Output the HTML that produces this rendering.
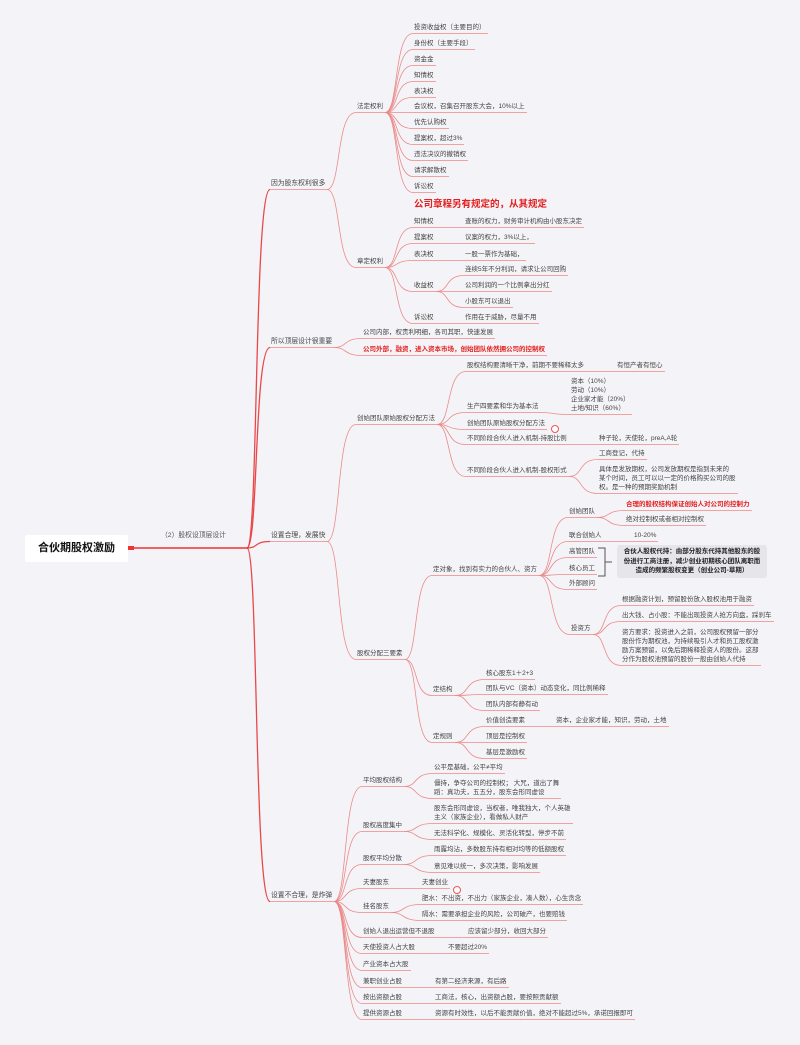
<!DOCTYPE html>
<html><head><meta charset="utf-8">
<style>
html,body{margin:0;padding:0;}
body{width:800px;height:1045px;background:#f4f4f8;position:relative;overflow:hidden;font-family:"Liberation Sans","Noto Sans CJK SC",sans-serif;}
.n{position:absolute;font-size:6.5px;line-height:9px;color:#444;white-space:nowrap;padding:0 2px 1px 1px;border-bottom:1px solid #f2a0a0;}
.m{white-space:pre;line-height:9px;}
.r{color:#e32020;font-weight:bold;}
.big{font-size:9.5px;line-height:12px;}
.l1{font-size:6.8px;}
#root{position:absolute;left:25px;top:535px;width:103px;height:27px;background:#fff;border-radius:2px;font-size:11px;font-weight:bold;color:#111;text-align:center;line-height:27px;font-family:"Liberation Sans","Noto Sans CJK SC",sans-serif;}
#box{position:absolute;left:617px;top:545px;width:150px;height:33px;background:#e5e5ea;border-radius:3px;font-size:6.5px;font-weight:bold;color:#222;text-align:center;line-height:9.5px;padding-top:2px;box-sizing:border-box;}
svg{position:absolute;left:0;top:0;}
.c{position:absolute;width:6px;height:6px;border:1px solid #e55;border-radius:50%;background:#fff;}
</style></head><body>
<svg id="sv" width="800" height="1045"></svg>
<div id="root">合伙期股权激励</div>
<div class="n l1" style="left:160px;top:531px;border:none;color:#555">（2）股权设顶层设计</div>

<div class="n l1" id="A" style="left:270px;top:179px">因为股东权利很多</div>
<div class="n" id="A1" style="left:356px;top:102px">法定权利</div>
<div class="n" id="a1" style="left:413px;top:23px">投资收益权（主要目的）</div>
<div class="n" id="a2" style="left:413px;top:39px">身份权（主要手段）</div>
<div class="n" id="a3" style="left:413px;top:55px">资金金</div>
<div class="n" id="a4" style="left:413px;top:71px">知情权</div>
<div class="n" id="a5" style="left:413px;top:87px">表决权</div>
<div class="n" id="a6" style="left:413px;top:102px">会议权，召集召开股东大会，10%以上</div>
<div class="n" id="a7" style="left:413px;top:118px">优先认购权</div>
<div class="n" id="a8" style="left:413px;top:134px">提案权，超过3%</div>
<div class="n" id="a9" style="left:413px;top:150px">违法决议的撤销权</div>
<div class="n" id="a10" style="left:413px;top:166px">请求解散权</div>
<div class="n" id="a11" style="left:413px;top:182px">诉讼权</div>

<div class="n" id="A2" style="left:356px;top:257px">章定权利</div>
<div class="n r big" id="b0" style="left:413px;top:199px;border:none">公司章程另有规定的，从其规定</div>
<div class="n" id="b1" style="left:413px;top:217px">知情权</div>
<div class="n" id="b1s" style="left:464px;top:217px">查账的权力，财务审计机构由小股东决定</div>
<div class="n" id="b2" style="left:413px;top:233px">提案权</div>
<div class="n" id="b2s" style="left:464px;top:233px">议案的权力，3%以上，</div>
<div class="n" id="b3" style="left:413px;top:250px">表决权</div>
<div class="n" id="b3s" style="left:464px;top:250px">一股一票作为基础，</div>
<div class="n" id="b4" style="left:413px;top:281px">收益权</div>
<div class="n" id="b41" style="left:464px;top:265px">连续5年不分利润，请求让公司回购</div>
<div class="n" id="b42" style="left:464px;top:281px">公司利润的一个比例拿出分红</div>
<div class="n" id="b43" style="left:464px;top:297px">小股东可以退出</div>
<div class="n" id="b5" style="left:413px;top:313px">诉讼权</div>
<div class="n" id="b5s" style="left:464px;top:313px">作用在于威胁，尽量不用</div>

<div class="n l1" id="B" style="left:270px;top:337px">所以顶层设计很重要</div>
<div class="n" id="B1" style="left:362px;top:328px">公司内部，权责利明细，各司其职，快速发展</div>
<div class="n r" id="B2" style="left:362px;top:345px">公司外部，融资，进入资本市场，创始团队依然拥公司的控制权</div>

<div class="n l1" id="C" style="left:270px;top:531px">设置合理，发展快</div>
<div class="n" id="C1" style="left:356px;top:414px">创始团队原始股权分配方法</div>
<div class="n" id="c1" style="left:466px;top:361px">股权结构要清晰干净，前期不要稀释太多</div>
<div class="n" id="c1s" style="left:616px;top:361px">有恒产者有恒心</div>
<div class="n" id="c2" style="left:466px;top:402px">生产四要素和华为基本法</div>
<div class="n m" id="c2s" style="left:570px;top:377px">资本（10%）
劳动（10%）
企业家才能（20%）
土地/知识（60%）</div>
<div class="n" id="c3" style="left:466px;top:419px">创始团队原始股权分配方法</div>
<div class="c" style="left:551px;top:425px"></div>
<div class="n" id="c4" style="left:466px;top:434px">不同阶段合伙人进入机制-持股比例</div>
<div class="n" id="c4s" style="left:598px;top:434px">种子轮，天使轮，preA,A轮</div>
<div class="n" id="c5" style="left:466px;top:466px">不同阶段合伙人进入机制-股权形式</div>
<div class="n" id="c51" style="left:598px;top:449px">工商登记，代持</div>
<div class="n m" id="c52" style="left:598px;top:465px">具体是发放期权，公司发放期权是指到未来的
某个时间，员工可以以一定的价格购买公司的股
权。是一种的预期奖励机制</div>

<div class="n" id="C2" style="left:356px;top:649px">股权分配三要素</div>
<div class="n" id="d1" style="left:432px;top:565px">定对象，找到有实力的合伙人、资方</div>
<div class="n" id="e1" style="left:568px;top:507px">创始团队</div>
<div class="n r" id="e11" style="left:625px;top:500px">合理的股权结构保证创始人对公司的控制力</div>
<div class="n" id="e12" style="left:625px;top:515px">绝对控制权或者相对控制权</div>
<div class="n" id="e2" style="left:568px;top:531px">联合创始人</div>
<div class="n" id="e2s" style="left:633px;top:531px">10-20%</div>
<div class="n" id="e3" style="left:568px;top:547px">高管团队</div>
<div class="n" id="e4" style="left:568px;top:564px">核心员工</div>
<div class="n" id="e5" style="left:568px;top:579px">外部顾问</div>
<div id="box">合伙人股权代持：由部分股东代持其他股东的股<br>份进行工商注册，减少创业初期核心团队离职而<br>造成的频繁股权变更（创业公司-草期）</div>
<div class="n" id="e6" style="left:570px;top:624px">投资方</div>
<div class="n" id="e61" style="left:621px;top:595px">根据融资计划，预留股份放入股权池用于融资</div>
<div class="n" id="e62" style="left:621px;top:611px">出大钱、占小股：不能出现投资人抢方向盘，踩刹车</div>
<div class="n m" id="e63" style="left:621px;top:628px">资方要求：投资进入之前，公司股权预留一部分
股份作为期权池，为持续吸引人才和员工股权激
励方案预留，以免后期稀释投资人的股份。这部
分作为股权池预留的股份一般由创始人代持</div>
<div class="n" id="d2" style="left:432px;top:685px">定结构</div>
<div class="n" id="f1" style="left:485px;top:669px">核心股东1＋2+3</div>
<div class="n" id="f2" style="left:485px;top:684px">团队与VC（资本）动态变化，同比例稀释</div>
<div class="n" id="f3" style="left:485px;top:700px">团队内部有静有动</div>
<div class="n" id="d3" style="left:432px;top:732px">定规则</div>
<div class="n" id="g1" style="left:485px;top:716px">价值创造要素</div>
<div class="n" id="g1s" style="left:555px;top:716px">资本，企业家才能，知识，劳动，土地</div>
<div class="n" id="g2" style="left:485px;top:732px">顶层是控制权</div>
<div class="n" id="g3" style="left:485px;top:748px">基层是激励权</div>

<div class="n l1" id="D" style="left:270px;top:891px">设置不合理，是炸弹</div>
<div class="n" id="D1" style="left:362px;top:776px">平均股权结构</div>
<div class="n" id="h1" style="left:433px;top:763px">公平是基础，公平≠平均</div>
<div class="n m" id="h2" style="left:433px;top:779px">僵持，争夺公司的控制权； 大咒，道出了舞
蹈：真功夫，五五分，股东会形同虚设</div>
<div class="n" id="D2" style="left:362px;top:821px">股权高度集中</div>
<div class="n m" id="i1" style="left:433px;top:804px">股东会形同虚设，当权者，唯我独大，个人英雄
主义（家族企业），看做私人财产</div>
<div class="n" id="i2" style="left:433px;top:829px">无法科学化、规模化、灵活化转型，停步不前</div>
<div class="n" id="D3" style="left:362px;top:854px">股权平均分散</div>
<div class="n" id="j1" style="left:433px;top:845px">雨露均沾，多数股东持有相对均等的低额股权</div>
<div class="n" id="j2" style="left:433px;top:862px">意见难以统一，多次决策，影响发展</div>
<div class="n" id="D4" style="left:362px;top:878px">夫妻股东</div>
<div class="n" id="D4s" style="left:421px;top:878px">夫妻创业</div>
<div class="c" style="left:453px;top:886px"></div>
<div class="n" id="D5" style="left:362px;top:902px">挂名股东</div>
<div class="n" id="k1" style="left:421px;top:894px">肥水：不出资，不出力（家族企业，凑人数），心生贪念</div>
<div class="n" id="k2" style="left:421px;top:910px">隔水：需要承担企业的风险，公司破产，也要赔钱</div>
<div class="n" id="D6" style="left:362px;top:927px">创始人退出运营但不退股</div>
<div class="n" id="D6s" style="left:467px;top:927px">应该留少部分，收回大部分</div>
<div class="n" id="D7" style="left:362px;top:943px">天使投资人占大股</div>
<div class="n" id="D7s" style="left:447px;top:943px">不要超过20%</div>
<div class="n" id="D8" style="left:362px;top:960px">产业资本占大股</div>
<div class="n" id="D9" style="left:362px;top:977px">兼职创业占股</div>
<div class="n" id="D9s" style="left:434px;top:977px">有第二经济来源，有后路</div>
<div class="n" id="D10" style="left:362px;top:993px">按出资额占股</div>
<div class="n" id="D10s" style="left:434px;top:993px">工商法，核心，出资额占股，要按照贡献额</div>
<div class="n" id="D11" style="left:362px;top:1009px">提供资源占股</div>
<div class="n" id="D11s" style="left:434px;top:1009px">资源有时效性，以后不能贡献价值，绝对不能超过5%，承诺回报即可</div>

<script>
var E="A:A1,A2;A1:a1,a2,a3,a4,a5,a6,a7,a8,a9,a10,a11;A2:b1,b2,b3,b4,b5;b1:b1s;b2:b2s;b3:b3s;b4:b41,b42,b43;b5:b5s;B:B1,B2;C:C1,C2;C1:c1,c2,c3,c4,c5;c1:c1s;c2:c2s;c4:c4s;c5:c51,c52;C2:d1,d2,d3;d1:e1,e2,e3,e4,e5,e6;e1:e11,e12;e2:e2s;e6:e61,e62,e63;d2:f1,f2,f3;d3:g1,g2,g3;g1:g1s;D:D1,D2,D3,D4,D5,D6,D7,D8,D9,D10,D11;D1:h1,h2;D2:i1,i2;D3:j1,j2;D4:D4s;D5:k1,k2;D6:D6s;D7:D7s;D9:D9s;D10:D10s;D11:D11s";
var sv=document.getElementById('sv'),h='';
function g(id){var e=document.getElementById(id);return{x:e.offsetLeft,y:e.offsetTop+e.offsetHeight-0.5,w:e.offsetWidth};}
function cur(x1,y1,x2,y2,w,c){var d=(x2-x1)*0.5;h+='<path d="M'+x1+' '+y1+' C'+(x1+d)+' '+y1+','+(x1+d*0.6)+' '+y2+','+x2+' '+y2+'" fill="none" stroke="'+c+'" stroke-width="'+w+'"/>';}
E.split(';').forEach(function(s){var p=s.split(':'),a=g(p[0]);p[1].split(',').forEach(function(c){var b=g(c);cur(a.x+a.w,a.y,b.x,b.y,0.8,'#ec8a8a');});});
['A','B','C','D'].forEach(function(k){var b=g(k);cur(247,548,b.x,b.y,1.3,'#e84848');});
h+='<line x1="128" y1="548" x2="248" y2="548" stroke="#e33" stroke-width="1.5"/><rect x="128" y="546" width="6" height="4" fill="#e33"/>';
h+='<path d="M598 548 H605 V576 H598 M605 562 H612" fill="none" stroke="#555" stroke-width="1"/>';
sv.innerHTML=h;
</script>
</body></html>
